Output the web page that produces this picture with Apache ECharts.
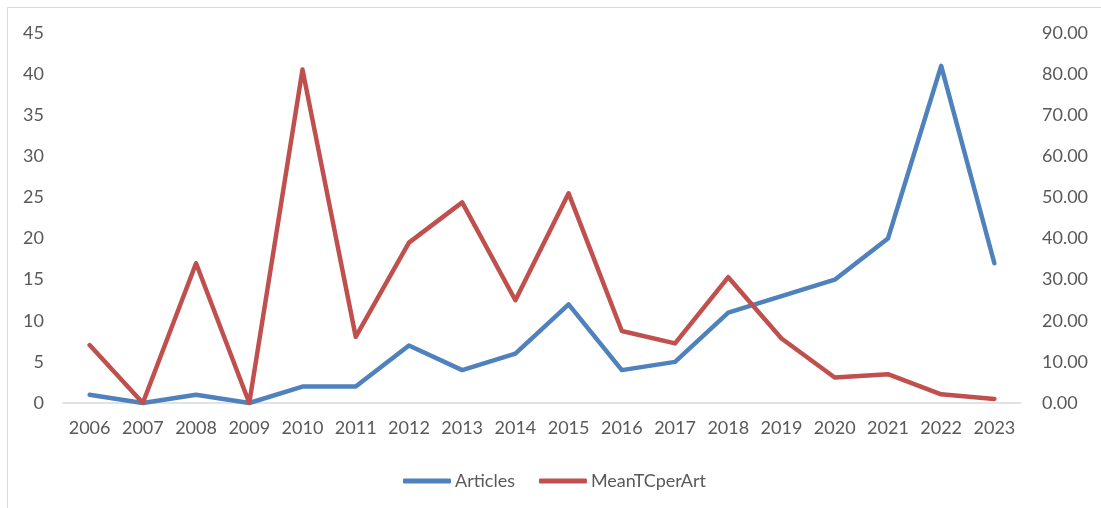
<!DOCTYPE html>
<html>
<head>
<meta charset="utf-8">
<script src="https://cdn.jsdelivr.net/npm/echarts@6/dist/echarts.min.js"></script>
<style>
html,body{margin:0;padding:0;background:#fff;}
#c{width:1101px;height:508px;}
</style>
</head>
<body>
<div id="c"></div>
<script>
const years = ['2006','2007','2008','2009','2010','2011','2012','2013','2014','2015','2016','2017','2018','2019','2020','2021','2022','2023'];
const articles = [1,0,1,0,2,2,7,4,6,12,4,5,11,13,15,20,41,17];
const meanTC = [14.1,0,34.0,0,81.1,16.1,39.0,48.8,25.0,51.0,17.5,14.5,30.6,15.7,6.2,7.0,2.1,1.0];
const leftTicks = {min:0,max:45,interval:5};
const rightTicks = {min:0,max:90,interval:10};

const font = 'Lato, "Open Sans", sans-serif';
const txt = '#595959';
const chart = echarts.init(document.getElementById('c'));
chart.setOption({
  backgroundColor:'#ffffff',
  animation:false,
  graphic:[{type:'rect',shape:{x:7.5,y:7.5,width:1200,height:600},style:{fill:'none',stroke:'#d9d9d9',lineWidth:1}}],
  grid:{left:63,right:80,top:33,bottom:105,containLabel:false},
  legend:{
    left:398, top:467,
    itemWidth:48, itemHeight:5, itemGap:24,
    icon:'roundRect',
    textStyle:{fontFamily:font,fontSize:18,color:txt,padding:[0,0,0,-1]},
    data:['Articles','MeanTCperArt']
  },
  xAxis:{
    type:'category', data:years, boundaryGap:true,
    axisLine:{lineStyle:{color:'#d9d9d9',width:1.5}},
    axisTick:{show:false},
    axisLabel:{fontFamily:font,fontSize:18,color:txt,margin:16,interval:0}
  },
  yAxis:[
    {type:'value',min:leftTicks.min,max:leftTicks.max,interval:leftTicks.interval,
     splitLine:{show:false},axisLine:{show:false},axisTick:{show:false},
     axisLabel:{fontFamily:font,fontSize:18,color:txt,margin:19}},
    {type:'value',min:rightTicks.min,max:rightTicks.max,interval:rightTicks.interval,
     splitLine:{show:false},axisLine:{show:false},axisTick:{show:false},
     axisLabel:{fontFamily:font,fontSize:18,color:txt,margin:21,formatter:v=>v.toFixed(2)}}
  ],
  series:[
    {name:'Articles',type:'line',data:articles,yAxisIndex:0,showSymbol:false,symbol:'none',
     lineStyle:{color:'#4F81BD',width:4.5,cap:'round',join:'round'},itemStyle:{color:'#4F81BD'}},
    {name:'MeanTCperArt',type:'line',data:meanTC,yAxisIndex:1,showSymbol:false,symbol:'none',
     lineStyle:{color:'#C0504D',width:4.5,cap:'round',join:'round'},itemStyle:{color:'#C0504D'}}
  ]
});
</script>
</body>
</html>
